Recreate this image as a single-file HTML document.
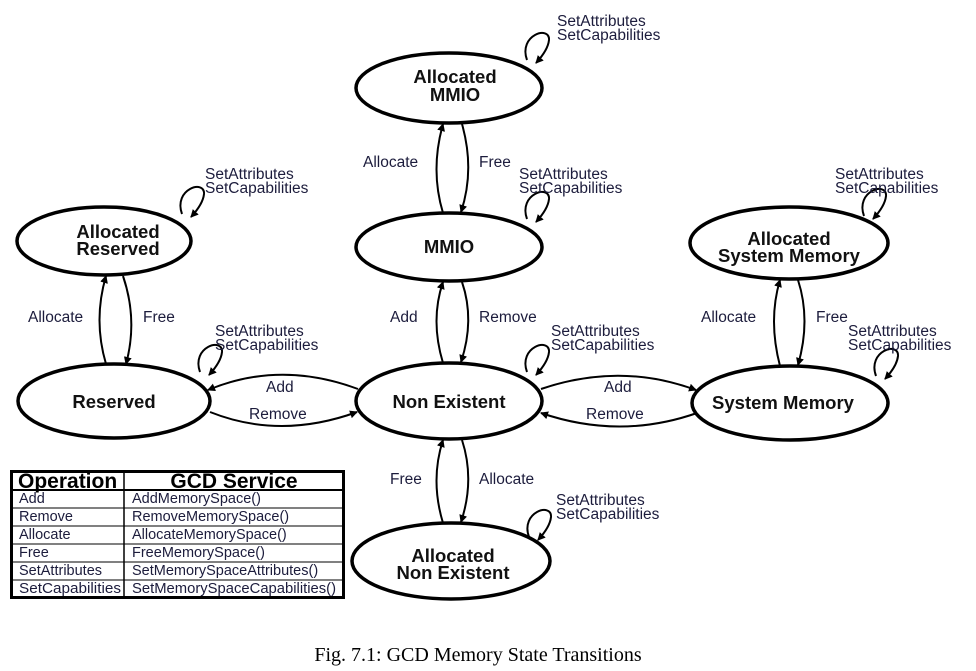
<!DOCTYPE html>
<html><head><meta charset="utf-8"><style>
body{margin:0;background:#fff;width:976px;height:666px;overflow:hidden}
svg text{font-family:"Liberation Sans",Arial,sans-serif}
.l{font-size:15.5px;fill:#1c1c3c}
.n{font-size:18.5px;font-weight:bold;fill:#111;text-anchor:middle}
</style></head><body>
<svg width="976" height="666" viewBox="0 0 976 666" xmlns="http://www.w3.org/2000/svg">
<defs><marker id="a" markerWidth="8" markerHeight="8" refX="7" refY="4" orient="auto" markerUnits="userSpaceOnUse"><path d="M0,0 L8,4 L0,8 z" fill="#000"/></marker></defs>
<g fill="none" stroke="#000" stroke-width="3.5">
<ellipse cx="449" cy="88" rx="93" ry="35"/>
<ellipse cx="449" cy="247" rx="93" ry="34"/>
<ellipse cx="104" cy="241" rx="87" ry="34"/>
<ellipse cx="114" cy="401" rx="96" ry="37"/>
<ellipse cx="449" cy="401" rx="93" ry="38"/>
<ellipse cx="790" cy="403" rx="98" ry="37"/>
<ellipse cx="789" cy="243" rx="99" ry="36"/>
<ellipse cx="451" cy="561" rx="99" ry="38"/>
</g>
<g fill="none" stroke="#000" stroke-width="2" marker-end="url(#a)">
<path d="M443,213 Q430,170 443,124"/><path d="M462,124 Q475,170 461,212"/>
<path d="M443,363 Q430,320 443,282"/><path d="M462,282 Q475,320 461,362"/>
<path d="M443,523 Q430,480 443,440"/><path d="M462,440 Q475,480 461,522"/>
<path d="M106,364 Q93,320 106,276"/><path d="M123,276 Q138,320 126,364"/>
<path d="M780,366 Q768,320 780,280"/><path d="M798,280 Q811,320 798,365"/>
<path d="M358,389 Q280,360 208,390"/><path d="M210,412 Q280,440 357,412"/>
<path d="M541,389 Q620,362 696,390"/><path d="M697,413 Q620,440 541,413"/>
<path d="M527,60 C518,35 550,25 549,40 Q548,50 536,63"/>
<path d="M527,219 C518,194 550,184 549,199 Q548,209 536,222"/>
<path d="M182,214 C173,189 205,179 204,194 Q203,204 191,217"/>
<path d="M200,372 C191,347 223,337 222,352 Q221,362 209,375"/>
<path d="M527,372 C518,347 550,337 549,352 Q548,362 536,375"/>
<path d="M864,216 C855,191 887,181 886,196 Q885,206 873,219"/>
<path d="M876,376 C867,351 899,341 898,356 Q897,366 885,379"/>
<path d="M529,537 C520,512 552,502 551,517 Q550,527 538,540"/>
</g>
<text class="n" x="455" y="83">Allocated</text><text class="n" x="455" y="101">MMIO</text>
<text class="n" x="449" y="253">MMIO</text>
<text class="n" x="118" y="238">Allocated</text><text class="n" x="118" y="255">Reserved</text>
<text class="n" x="114" y="408">Reserved</text>
<text class="n" x="449" y="408">Non Existent</text>
<text class="n" x="783" y="409">System Memory</text>
<text class="n" x="789" y="245">Allocated</text><text class="n" x="789" y="262">System Memory</text>
<text class="n" x="453" y="562">Allocated</text><text class="n" x="453" y="579">Non Existent</text>
<g class="l">
<text x="557" y="26">SetAttributes</text><text x="557" y="40">SetCapabilities</text>
<text x="519" y="179">SetAttributes</text><text x="519" y="193">SetCapabilities</text>
<text x="205" y="179">SetAttributes</text><text x="205" y="193">SetCapabilities</text>
<text x="215" y="336">SetAttributes</text><text x="215" y="350">SetCapabilities</text>
<text x="551" y="336">SetAttributes</text><text x="551" y="350">SetCapabilities</text>
<text x="835" y="179">SetAttributes</text><text x="835" y="193">SetCapabilities</text>
<text x="848" y="336">SetAttributes</text><text x="848" y="350">SetCapabilities</text>
<text x="556" y="505">SetAttributes</text><text x="556" y="519">SetCapabilities</text>
<text x="363" y="167">Allocate</text><text x="479" y="167">Free</text>
<text x="390" y="322">Add</text><text x="479" y="322">Remove</text>
<text x="390" y="484">Free</text><text x="479" y="484">Allocate</text>
<text x="28" y="322">Allocate</text><text x="143" y="322">Free</text>
<text x="701" y="322">Allocate</text><text x="816" y="322">Free</text>
<text x="266" y="392">Add</text><text x="249" y="419">Remove</text>
<text x="604" y="392">Add</text><text x="586" y="419">Remove</text>
</g>
<g stroke="#000" fill="none">
<rect x="11.5" y="471.5" width="332" height="126" stroke-width="3"/>
<line x1="124" y1="471" x2="124" y2="598" stroke-width="1.5"/>
<line x1="11" y1="490" x2="344" y2="490" stroke-width="2"/>
<line x1="11" y1="508" x2="344" y2="508" stroke-width="1"/>
<line x1="11" y1="526" x2="344" y2="526" stroke-width="1"/>
<line x1="11" y1="544" x2="344" y2="544" stroke-width="1"/>
<line x1="11" y1="562" x2="344" y2="562" stroke-width="1"/>
<line x1="11" y1="580" x2="344" y2="580" stroke-width="1"/>
</g>
<text x="18" y="488" style="font-size:21px;font-weight:bold">Operation</text>
<text x="234" y="488" style="font-size:21px;font-weight:bold;text-anchor:middle">GCD Service</text>
<g style="font-size:14.5px" fill="#1c1c3c">
<text x="19" y="503">Add</text><text x="132" y="503">AddMemorySpace()</text>
<text x="19" y="521">Remove</text><text x="132" y="521">RemoveMemorySpace()</text>
<text x="19" y="539">Allocate</text><text x="132" y="539">AllocateMemorySpace()</text>
<text x="19" y="557">Free</text><text x="132" y="557">FreeMemorySpace()</text>
<text x="19" y="575">SetAttributes</text><text x="132" y="575">SetMemorySpaceAttributes()</text>
<text x="19" y="593" textLength="102" lengthAdjust="spacingAndGlyphs">SetCapabilities</text><text x="132" y="593" textLength="204" lengthAdjust="spacingAndGlyphs">SetMemorySpaceCapabilities()</text>
</g>
<text x="478" y="661" style="font-family:'Liberation Serif',serif;font-size:20px;text-anchor:middle">Fig. 7.1: GCD Memory State Transitions</text>
</svg>
</body></html>
